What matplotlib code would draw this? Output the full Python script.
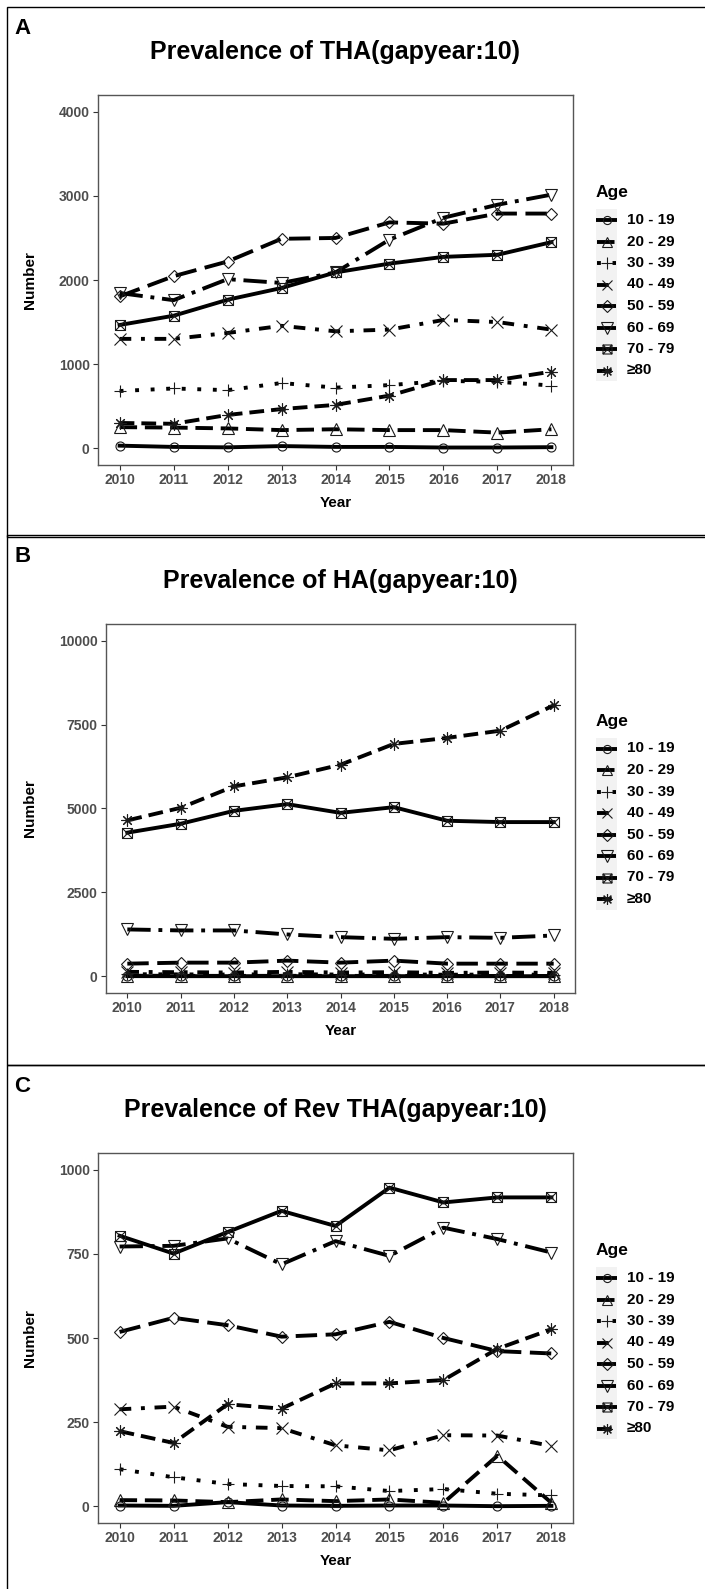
import matplotlib
matplotlib.use('Agg')
import matplotlib.pyplot as plt
from matplotlib.path import Path
from matplotlib.lines import Line2D
from matplotlib.patches import Rectangle

plt.rcParams['font.family'] = ['Liberation Sans', 'DejaVu Sans']

years = [2010, 2011, 2012, 2013, 2014, 2015, 2016, 2017, 2018]
age_groups = ['10 - 19', '20 - 29', '30 - 39', '40 - 49',
              '50 - 59', '60 - 69', '70 - 79', '\u226580']

# A: THA
tha_10_19 = [30, 15, 10, 25, 15, 15, 8, 8, 12]
tha_20_29 = [250, 245, 235, 215, 225, 215, 215, 185, 225]
tha_30_39 = [680, 710, 690, 775, 720, 750, 800, 790, 745]
tha_40_49 = [1300, 1300, 1370, 1455, 1390, 1410, 1525, 1500, 1410]
tha_50_59 = [1805, 2045, 2220, 2490, 2500, 2685, 2670, 2790, 2790]
tha_60_69 = [1845, 1760, 2010, 1965, 2090, 2480, 2740, 2895, 3015]
tha_70_79 = [1465, 1575, 1765, 1905, 2090, 2195, 2275, 2300, 2450]
tha_80 = [300, 290, 395, 465, 515, 625, 810, 810, 910]

# B: HA
ha_10_19 = [3, 2, 2, 2, 2, 2, 1, 1, 1]
ha_20_29 = [15, 12, 10, 12, 10, 10, 8, 8, 8]
ha_30_39 = [60, 55, 50, 60, 50, 55, 45, 50, 45]
ha_40_49 = [130, 120, 110, 130, 110, 120, 100, 110, 100]
ha_50_59 = [375, 405, 405, 465, 405, 465, 375, 375, 375]
ha_60_69 = [1395, 1365, 1365, 1245, 1165, 1115, 1165, 1145, 1215]
ha_70_79 = [4280, 4545, 4930, 5130, 4870, 5040, 4635, 4595, 4595]
ha_80 = [4645, 5020, 5660, 5930, 6305, 6925, 7105, 7320, 8075]

# C: Rev THA
rev_10_19 = [2, 1, 12, 2, 1, 2, 2, 0, 1]
rev_20_29 = [18, 17, 12, 20, 15, 20, 10, 150, 10]
rev_30_39 = [110, 86, 66, 60, 59, 45, 51, 37, 32]
rev_40_49 = [288, 296, 236, 232, 181, 166, 211, 210, 179]
rev_50_59 = [518, 560, 538, 504, 511, 548, 500, 461, 454]
rev_60_69 = [772, 774, 796, 719, 788, 744, 828, 794, 754]
rev_70_79 = [804, 751, 815, 878, 833, 947, 903, 918, 918]
rev_80 = [223, 188, 303, 290, 365, 365, 375, 468, 526]

# square with a cross (R pch 7)
sqx = Path([(-1, -1), (1, -1), (1, 1), (-1, 1), (-1, -1),
            (-1, -1), (1, 1), (-1, 1), (1, -1)],
           [Path.MOVETO, Path.LINETO, Path.LINETO, Path.LINETO, Path.CLOSEPOLY,
            Path.MOVETO, Path.LINETO, Path.MOVETO, Path.LINETO])

markers = ['o', '^', '+', 'x', 'D', 'v', sqx, (8, 2, 0)]
msizes = [6.5, 8.5, 9.0, 8.0, 6.4, 9.0, 7.2, 8.6]
dashes = ['-', (0, (4.5, 2)), (0, (1, 3)), (0, (3, 2.5, 1, 2.5)),
          (0, (5.5, 2.2)), (0, (6, 2, 1, 2)), '-', (0, (3.8, 1.8))]

W, H = 705, 1589
fig = plt.figure(figsize=(W / 100, H / 100), dpi=100)

panels = [
    ('A', 'Prevalence of THA(gapyear:10)',
     [tha_10_19, tha_20_29, tha_30_39, tha_40_49, tha_50_59, tha_60_69, tha_70_79, tha_80],
     (98, 573, 95, 465), (-200, 4200), [0, 1000, 2000, 3000, 4000], 7),
    ('B', 'Prevalence of HA(gapyear:10)',
     [ha_10_19, ha_20_29, ha_30_39, ha_40_49, ha_50_59, ha_60_69, ha_70_79, ha_80],
     (106, 575, 624, 993), (-500, 10500), [0, 2500, 5000, 7500, 10000], 535),
    ('C', 'Prevalence of Rev THA(gapyear:10)',
     [rev_10_19, rev_20_29, rev_30_39, rev_40_49, rev_50_59, rev_60_69, rev_70_79, rev_80],
     (98, 573, 1153, 1523), (-50, 1050), [0, 250, 500, 750, 1000], 1065),
]

lw = 2.8
for letter, title, series, (l, r, t, b), ylim, yticks, top in panels:
    # panel frame
    fig.patches.append(Rectangle((7 / W, 1 - (top + 530) / H), 720 / W, 530 / H,
                                 transform=fig.transFigure, fill=False,
                                 edgecolor='black', lw=1.0))
    ax = fig.add_axes([l / W, 1 - b / H, (r - l) / W, (b - t) / H])
    for i, vals in enumerate(series):
        ax.plot(years, vals, color='black', lw=lw, linestyle=dashes[i],
                dash_capstyle='butt', zorder=2)
    for i, vals in enumerate(series):
        ax.plot(years, vals, linestyle='none', marker=markers[i], ms=msizes[i],
                mfc='none', mec='#1a1a1a', mew=0.8, zorder=3)
    ax.set_xlim(2009.6, 2018.4)
    ax.set_ylim(*ylim)
    ax.set_xticks(years)
    ax.set_yticks(yticks)
    ax.set_xticklabels([str(y) for y in years])
    ax.set_yticklabels([str(v) for v in yticks])
    ax.tick_params(labelsize=10, labelcolor='#4D4D4D', color='#333333',
                   length=3.5, width=0.8, pad=2.5)
    for lab in ax.get_xticklabels() + ax.get_yticklabels():
        lab.set_fontweight('bold')
    for sp in ax.spines.values():
        sp.set_color('#555555')
        sp.set_linewidth(1.0)

    cx = (l + r) / 2 / W
    fig.text(cx, 1 - (t - 43) / H, title, ha='center', va='center',
             fontsize=18, fontweight='bold')
    fig.text(14 / W, 1 - (top + 22) / H, letter, ha='left', va='center',
             fontsize=16, fontweight='bold')
    fig.text(30 / W, 1 - (t + b) / 2 / H, 'Number', rotation=90, ha='center',
             va='center', fontsize=11, fontweight='bold')
    fig.text(cx, 1 - (b + 38) / H, 'Year', ha='center', va='center',
             fontsize=11, fontweight='bold')

    # legend
    mid = (t + b) / 2
    age_y = mid - 87
    row0 = age_y + 27
    step = 21.5
    fig.text(596 / W, 1 - age_y / H, 'Age', ha='left', va='center',
             fontsize=12.5, fontweight='bold')
    leg = fig.add_axes([596 / W, 1 - (row0 + 7.5 * step) / H, 21 / W, 8 * step / H])
    leg.set_xlim(0, 1)
    leg.set_ylim(8, 0)
    leg.axis('off')
    leg.add_patch(Rectangle((0, 0), 1, 8, facecolor='#F2F2F2', edgecolor='none'))
    for i, name in enumerate(age_groups):
        leg.add_line(Line2D([0.05, 0.95], [i + 0.5, i + 0.5], color='black',
                            lw=lw, linestyle=dashes[i], dash_capstyle='butt'))
        leg.add_line(Line2D([0.5], [i + 0.5], linestyle='none', marker=markers[i],
                            ms=msizes[i] * 0.9, mfc='none', mec='#1a1a1a', mew=0.8))
        fig.text(627 / W, 1 - (row0 + i * step) / H, name, ha='left',
                 va='center', fontsize=11, fontweight='bold')

fig.savefig('out.png', dpi=100)
